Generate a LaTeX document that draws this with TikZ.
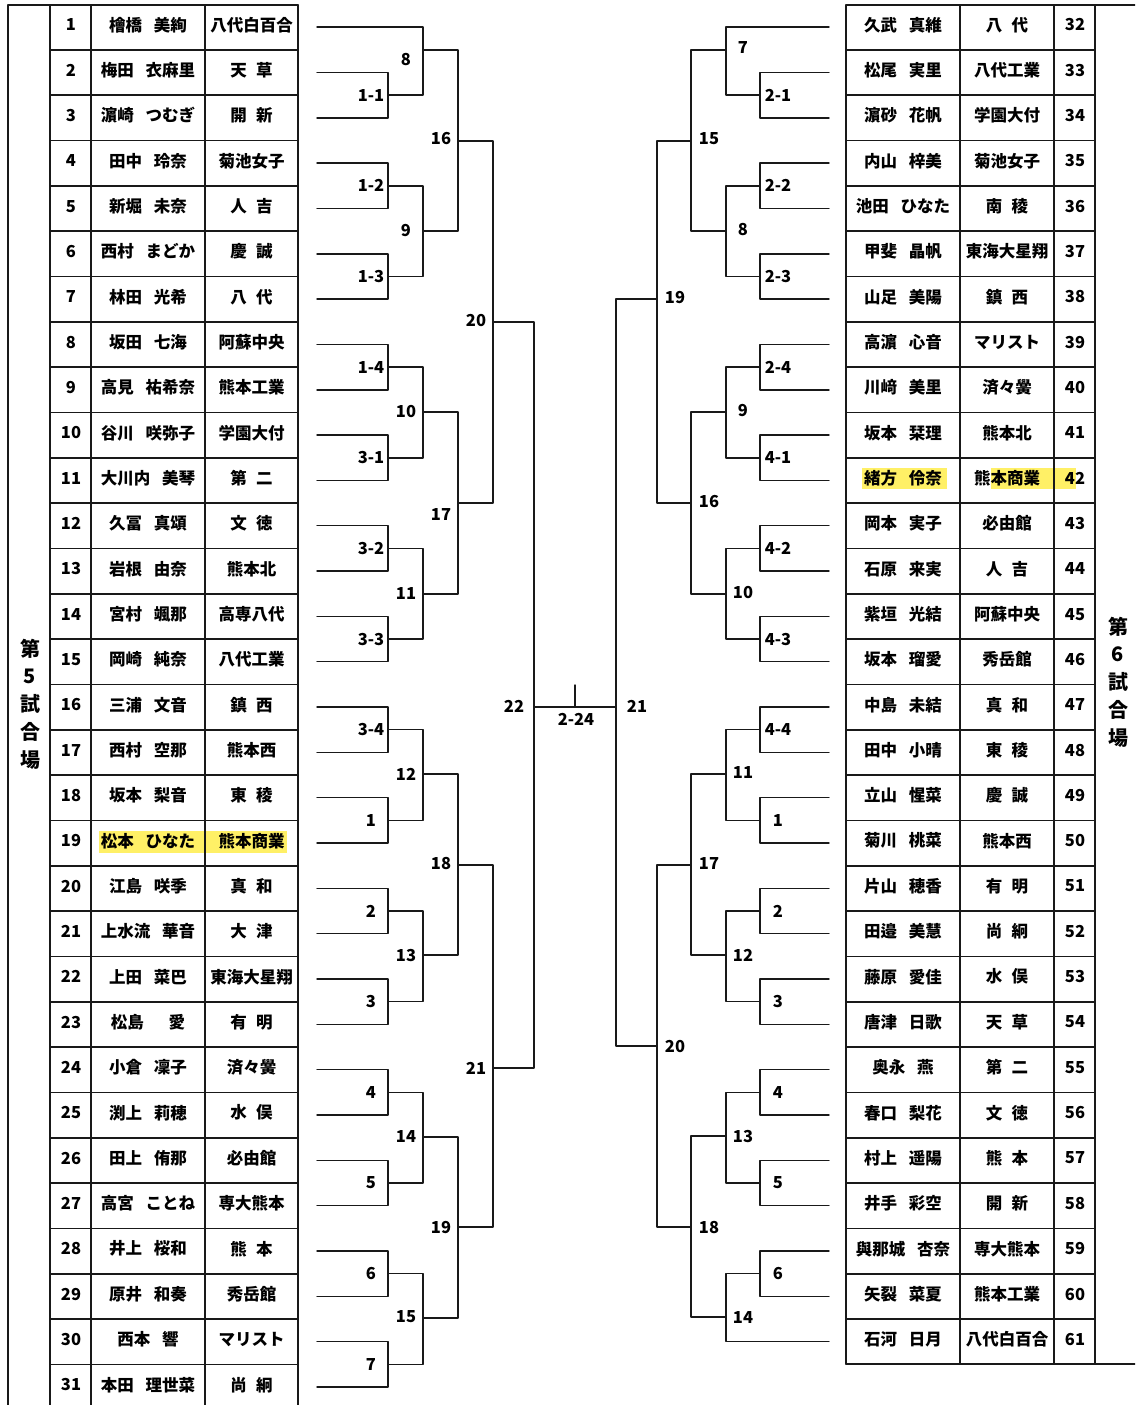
\documentclass[tikz,border=0pt]{standalone}
\usepackage{fontspec}
\setmainfont{Noto Sans CJK JP}
\usepackage{tikz}
\definecolor{ffeeqq}{rgb}{1.,0.94,0.4}
\definecolor{qqqqqq}{rgb}{0.1,0.1,0.1}
\newcommand{\jsp}{\hspace{0.7em}}
\newcommand{\ksp}{\hspace{0.55em}}

\begin{document}
\begin{tikzpicture}[line cap=round,line join=round,x=1pt,y=-1pt,
  tbl/.style={line width=1.8pt,color=qqqqqq},
  brk/.style={line width=1.4pt,color=qqqqqq},
  txt/.style={inner sep=0pt,font=\fontsize{16.5}{18}\selectfont\bfseries},
  lbl/.style={inner sep=0pt,font=\fontsize{16.5}{18}\selectfont\bfseries},
  hall/.style={inner sep=0pt,align=center,font=\fontsize{20}{27.8}\selectfont\bfseries}]
\useasboundingbox (0,0) rectangle (1135,1405);
\clip (0,0) rectangle (1135,1405);
% highlights
\fill [ffeeqq] (99,831) rectangle (204,853);
\fill [ffeeqq] (205,831) rectangle (287,853);
\fill [ffeeqq] (862,468) rectangle (947,489);
\fill [ffeeqq] (991,468) rectangle (1076,489);
% left table
\draw [tbl] (8,1405) -- (8,5) -- (298,5);
\foreach \xx in {50,91,205,298}
  \draw [tbl] (\xx,5) -- (\xx,1405);
\foreach \k in {1,...,30}
  \draw [tbl] (50,{4.5+45.33*\k}) -- (298,{4.5+45.33*\k});
% right table
\draw [tbl] (846,5) -- (1135,5);
\draw [tbl] (846,1364) -- (1135,1364);
\foreach \xx in {846,960,1054,1095}
  \draw [tbl] (\xx,5) -- (\xx,1364);
\foreach \k in {1,...,29}
  \draw [tbl] (846,{4.5+45.33*\k}) -- (1095,{4.5+45.33*\k});
\node [hall] (hall5) at (30,704) {第\\5\\試\\合\\場};
\node [hall] (hall6) at (1118,682) {第\\6\\試\\合\\場};
\foreach \n/\nm/\sc in {1/檜橋\jsp 美絢/八代白百合,2/梅田\jsp 衣麻里/天\ksp 草,3/濵崎\jsp つむぎ/開\ksp 新,
  4/田中\jsp 玲奈/菊池女子,5/新堀\jsp 未奈/人\ksp 吉,6/西村\jsp まどか/慶\ksp 誠,7/林田\jsp 光希/八\ksp 代,
  8/坂田\jsp 七海/阿蘇中央,9/高見\jsp 祐希奈/熊本工業,10/谷川\jsp 咲弥子/学園大付,11/大川内\jsp 美琴/第\ksp 二,
  12/久冨\jsp 真頌/文\ksp 徳,13/岩根\jsp 由奈/熊本北,14/宮村\jsp 颯那/高専八代,15/岡崎\jsp 純奈/八代工業,
  16/三浦\jsp 文音/鎮\ksp 西,17/西村\jsp 空那/熊本西,18/坂本\jsp 梨音/東\ksp 稜,19/松本\jsp ひなた/熊本商業,
  20/江島\jsp 咲季/真\ksp 和,21/上水流\jsp 華音/大\ksp 津,22/上田\jsp 菜巴/東海大星翔,23/松島\hspace{1.5em}愛/有\ksp 明,
  24/小倉\jsp 凜子/済々黌,25/渕上\jsp 莉穂/水\ksp 俣,26/田上\jsp 侑那/必由館,27/高宮\jsp ことね/専大熊本,
  28/井上\jsp 桜和/熊\ksp 本,29/原井\jsp 和奏/秀岳館,30/西本\jsp 響/マリスト,31/本田\jsp 理世菜/尚\ksp 絅}
{
  \node [txt] (num\n) at (71,{45.33*\n-20.5}) {\n};
  \node [txt] (nm\n) at (148,{45.33*\n-20.5}) {\nm};
  \node [txt] (sc\n) at (251.5,{45.33*\n-20.5}) {\sc};
}
\foreach \n/\nm/\sc in {32/久武\jsp 真維/八\ksp 代,33/松尾\jsp 実里/八代工業,34/濵砂\jsp 花帆/学園大付,
  35/内山\jsp 梓美/菊池女子,36/池田\jsp ひなた/南\ksp 稜,37/甲斐\jsp 晶帆/東海大星翔,38/山足\jsp 美陽/鎮\ksp 西,
  39/高濵\jsp 心音/マリスト,40/川﨑\jsp 美里/済々黌,41/坂本\jsp 栞理/熊本北,42/緒方\jsp 伶奈/熊本商業,
  43/岡本\jsp 実子/必由館,44/石原\jsp 来実/人\ksp 吉,45/紫垣\jsp 光結/阿蘇中央,46/坂本\jsp 瑠愛/秀岳館,
  47/中島\jsp 未結/真\ksp 和,48/田中\jsp 小晴/東\ksp 稜,49/立山\jsp 惺菜/慶\ksp 誠,50/菊川\jsp 桃菜/熊本西,
  51/片山\jsp 穂香/有\ksp 明,52/田邉\jsp 美慧/尚\ksp 絅,53/藤原\jsp 愛佳/水\ksp 俣,54/唐津\jsp 日歌/天\ksp 草,
  55/奥永\jsp 燕/第\ksp 二,56/春口\jsp 梨花/文\ksp 徳,57/村上\jsp 遥陽/熊\ksp 本,58/井手\jsp 彩空/開\ksp 新,
  59/與那城\jsp 杏奈/専大熊本,60/矢裂\jsp 菜夏/熊本工業,61/石河\jsp 日月/八代白百合}
{
  \node [txt] (nm\n) at (903,{45.33*(\n-31)-20.5}) {\nm};
  \node [txt] (sc\n) at (1007,{45.33*(\n-31)-20.5}) {\sc};
  \node [txt] (num\n) at (1075,{45.33*(\n-31)-20.5}) {\n};
}
% entry points
\foreach \i in {1,...,31}
  \coordinate (L\i) at (317,{45.33*\i-18.17});
\foreach \i in {32,...,61}
  \coordinate (R\i) at (829,{45.33*(\i-31)-18.17});
% left first round
\foreach \lab/\r in {1-1/2,1-2/4,1-3/6,1-4/8,3-1/10,3-2/12,3-3/14,3-4/16,1/18,2/20,3/22,4/24,5/26,6/28,7/30}
{
  \pgfmathsetmacro\yy{45.33*\r+4.5}
  \pgfmathtruncatemacro\rr{\r+1}
  \coordinate (p\lab) at (388,\yy);
  \draw [brk] (L\r) -| (p\lab) (L\rr) -| (p\lab);
  \node [lbl] (t\lab) at (371,\yy) {\lab};
}
% right first round
\foreach \lab/\r in {2-1/33,2-2/35,2-3/37,2-4/39,4-1/41,4-2/43,4-3/45,4-4/47,1/49,2/51,3/53,4/55,5/57,6/59}
{
  \pgfmathsetmacro\yy{45.33*(\r-31)+4.5}
  \pgfmathtruncatemacro\rr{\r+1}
  \coordinate (q\lab) at (760,\yy);
  \draw [brk] (R\r) -| (q\lab) (R\rr) -| (q\lab);
  \node [lbl] (u\lab) at (778,\yy) {\lab};
}
% left side
\coordinate (m8) at (423,50);
\coordinate (m9) at (423,231);
\coordinate (m10) at (423,412);
\coordinate (m11) at (423,594);
\coordinate (m12) at (423,774);
\coordinate (m13) at (423,955);
\coordinate (m14) at (423,1137);
\coordinate (m15) at (423,1318);
\coordinate (m16) at (458,141);
\coordinate (m17) at (458,503);
\coordinate (m18) at (458,865);
\coordinate (m19) at (458,1227);
\coordinate (m20) at (493,322);
\coordinate (m21) at (493,1068);
\coordinate (m22) at (534,707);
\draw [brk] (L1) -| (m8) (p1-1) -| (m8);
\draw [brk] (p1-2) -| (m9) (p1-3) -| (m9);
\draw [brk] (p1-4) -| (m10) (p3-1) -| (m10);
\draw [brk] (p3-2) -| (m11) (p3-3) -| (m11);
\draw [brk] (p3-4) -| (m12) (p1) -| (m12);
\draw [brk] (p2) -| (m13) (p3) -| (m13);
\draw [brk] (p4) -| (m14) (p5) -| (m14);
\draw [brk] (p6) -| (m15) (p7) -| (m15);
\draw [brk] (m8) -| (m16) (m9) -| (m16);
\draw [brk] (m10) -| (m17) (m11) -| (m17);
\draw [brk] (m12) -| (m18) (m13) -| (m18);
\draw [brk] (m14) -| (m19) (m15) -| (m19);
\draw [brk] (m16) -| (m20) (m17) -| (m20);
\draw [brk] (m18) -| (m21) (m19) -| (m21);
\draw [brk] (m20) -| (m22) (m21) -| (m22);
\node [lbl] (t8) at (406,60) {8};
\node [lbl] (t9) at (406,231) {9};
\node [lbl] (t10) at (406,412) {10};
\node [lbl] (t11) at (406,594) {11};
\node [lbl] (t12) at (406,774) {12};
\node [lbl] (t13) at (406,955) {13};
\node [lbl] (t14) at (406,1136) {14};
\node [lbl] (t15) at (406,1317) {15};
\node [lbl] (t16) at (441,139) {16};
\node [lbl] (t17) at (441,515) {17};
\node [lbl] (t18) at (441,864) {18};
\node [lbl] (t19) at (441,1227) {19};
\node [lbl] (t20) at (476,321) {20};
\node [lbl] (t21) at (476,1068) {21};
\node [lbl] (t22) at (514,706) {22};
% right side
\coordinate (n7) at (726,50);
\coordinate (n8) at (726,231);
\coordinate (n9) at (726,412);
\coordinate (n10) at (726,594);
\coordinate (n11) at (726,774);
\coordinate (n12) at (726,955);
\coordinate (n13) at (726,1136);
\coordinate (n14) at (726,1317);
\coordinate (n15) at (691,141);
\coordinate (n16) at (691,503);
\coordinate (n17) at (691,865);
\coordinate (n18) at (691,1227);
\coordinate (n19) at (657,299);
\coordinate (n20) at (657,1046);
\coordinate (n21) at (616,707);
\draw [brk] (R32) -| (n7) (q2-1) -| (n7);
\draw [brk] (q2-2) -| (n8) (q2-3) -| (n8);
\draw [brk] (q2-4) -| (n9) (q4-1) -| (n9);
\draw [brk] (q4-2) -| (n10) (q4-3) -| (n10);
\draw [brk] (q4-4) -| (n11) (q1) -| (n11);
\draw [brk] (q2) -| (n12) (q3) -| (n12);
\draw [brk] (q4) -| (n13) (q5) -| (n13);
\draw [brk] (q6) -| (n14) (R61) -| (n14);
\draw [brk] (n7) -| (n15) (n8) -| (n15);
\draw [brk] (n9) -| (n16) (n10) -| (n16);
\draw [brk] (n11) -| (n17) (n12) -| (n17);
\draw [brk] (n13) -| (n18) (n14) -| (n18);
\draw [brk] (n15) -| (n19) (n16) -| (n19);
\draw [brk] (n17) -| (n20) (n18) -| (n20);
\draw [brk] (n19) -| (n21) (n20) -| (n21);
\node [lbl] (u7) at (743,48) {7};
\node [lbl] (u8) at (743,230) {8};
\node [lbl] (u9) at (743,411) {9};
\node [lbl] (u10) at (743,593) {10};
\node [lbl] (u11) at (743,773) {11};
\node [lbl] (u12) at (743,955) {12};
\node [lbl] (u13) at (743,1136) {13};
\node [lbl] (u14) at (743,1317) {14};
\node [lbl] (u15) at (709,139) {15};
\node [lbl] (u16) at (709,502) {16};
\node [lbl] (u17) at (709,864) {17};
\node [lbl] (u18) at (709,1227) {18};
\node [lbl] (u19) at (675,298) {19};
\node [lbl] (u20) at (675,1046) {20};
\node [lbl] (u21) at (637,706) {21};
% final
\coordinate (tk) at (575,685);
\draw [brk] (m22) -- (n21);
\draw [brk] (tk) -- (tk |- m22);
\node [lbl] (t2-24) at (576,719) {2-24};
\end{tikzpicture}
\end{document}
